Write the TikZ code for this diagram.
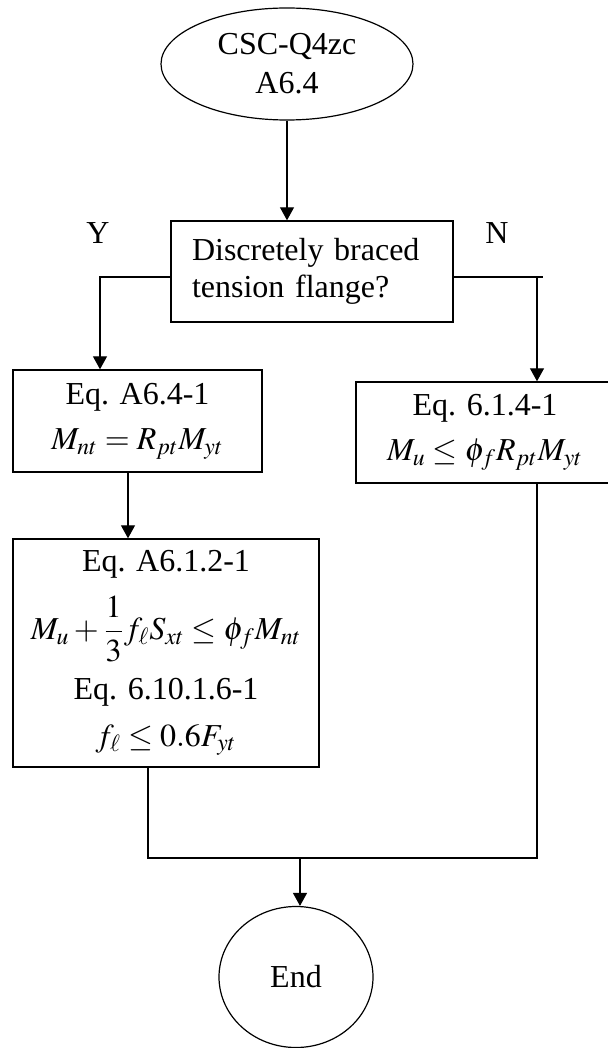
\documentclass[tikz,border=0pt]{standalone}
\usepackage{mathptmx}
\usepackage{fontspec}
\setmainfont{Liberation Serif}
\usetikzlibrary{shapes.geometric,arrows.meta}

\begin{document}
\begin{tikzpicture}[x=0.5pt, y=-0.5pt,
        every node/.style={font=\fontsize{16}{18.5}\selectfont},
        block/.style={draw, line width=0.7pt, rectangle, align=center, inner sep=0pt},
        oval/.style={draw, line width=0.6pt, ellipse, align=center, inner sep=0pt},
        link/.style={line width=0.6pt},
        arrow/.style={link, -{Triangle[length=6.5pt, width=7pt]}}]
        \def \Lx {100};
        \def \Rx {537};
        \def \By {277};
        \def \My {858};

        % рамка
        \useasboundingbox ( 0, 0 ) rectangle ( 608, 1048 );

        % блоки
        \node [oval, minimum width=126pt, minimum height=56pt] (start) at ( 287, 64 ) {CSC-Q4zc\\[1pt]A6.4};
        \node [block, align=left, text width=120pt, inner xsep=10.5pt, minimum height=50.5pt] (decide) at ( 312, 271.5 ) {Discretely braced\\tension flange?};
        \node [block, minimum width=124.5pt, minimum height=51pt] (eqa) at ( 137.5, 421 ) {Eq. A6.4-1\\[4pt]$M_{nt} = R_{pt} M_{yt}$};
        \node [block, minimum width=129pt, minimum height=50.5pt] (eqb) at ( 485, 432.5 ) {Eq. 6.1.4-1\\[4pt]$M_u \le \phi_f R_{pt} M_{yt}$};
        \node [block, minimum width=153pt, minimum height=114pt] (eqc) at ( 166, 653 ) {Eq. A6.1.2-1\\[8pt]$M_u + \displaystyle\frac{1}{3} f_\ell S_{xt} \le \phi_f M_{nt}$\\[7pt]Eq. 6.10.1.6-1\\[5pt]$f_\ell \le 0.6F_{yt}$};
        \node [oval, minimum width=77pt, minimum height=70.5pt] (end) at ( 296, 977 ) {End};

        % метки
        \node (yes) at ( 98, 233 ) {Y};
        \node (no) at ( 497, 233 ) {N};

        % точки излома
        \coordinate (yturn) at ( \Lx, \By );
        \coordinate (nturn) at ( \Rx, \By );
        \coordinate (nstub) at ( 543, \By );
        \coordinate (acol) at ( 128, 0 );
        \coordinate (cdrop) at ( 148, \My );
        \coordinate (mid) at ( 300, \My );

        % связи
        \draw [arrow] (start.south) -- (start.south |- decide.north);
        \draw [arrow] (decide.west |- yturn) -- (yturn) -- (yturn |- eqa.north);
        \draw [link] (decide.east |- nstub) -- (nstub);
        \draw [arrow] (nturn) -- (nturn |- eqb.north);
        \draw [arrow] (acol |- eqa.south) -- (acol |- eqc.north);
        \draw [link] (cdrop |- eqc.south) -- (cdrop) -- (nturn |- cdrop) -- (nturn |- eqb.south);
        \draw [arrow] (mid) -- (mid |- end.north);
    \end{tikzpicture}
\end{document}
